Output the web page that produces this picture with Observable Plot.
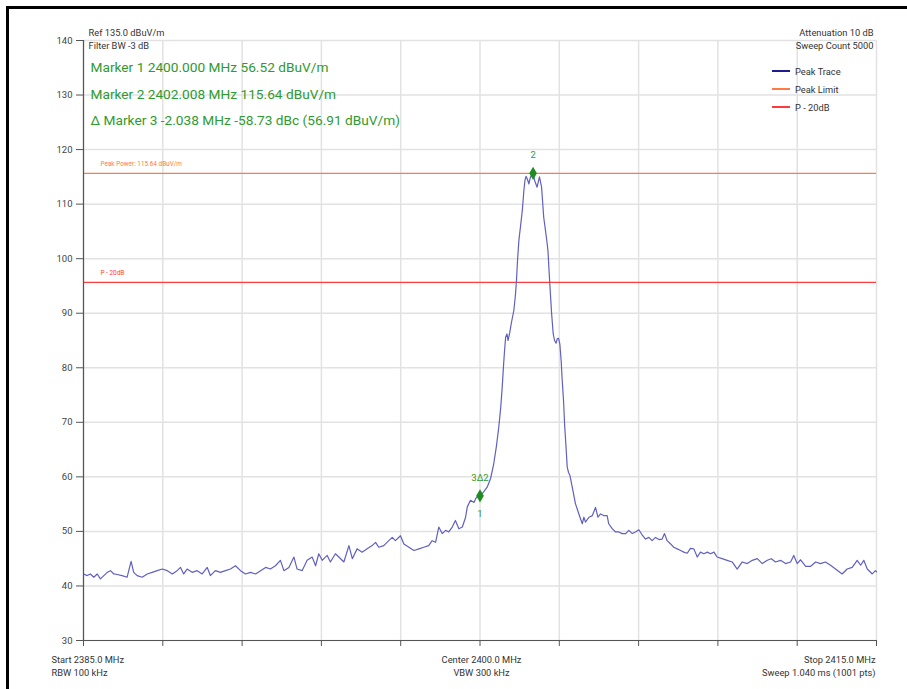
<!DOCTYPE html>
<html><head><meta charset="utf-8">
<script src="https://cdn.jsdelivr.net/npm/d3@7"></script>
<script src="https://cdn.jsdelivr.net/npm/@observablehq/plot@0.6"></script>
<style>
body{margin:0;background:#fff;overflow:hidden;}
#wrap{position:relative;width:907px;height:689px;overflow:hidden;background:#fff;}
#border{position:absolute;left:6px;top:6px;width:1000px;height:800px;border-left:3px solid #000;border-top:3px solid #000;pointer-events:none;}
#legend{position:absolute;left:772px;top:62px;font:9.3px Roboto, sans-serif;color:#333;}
.row{height:18px;display:flex;align-items:center;}
.sw{width:18px;height:0;border-top:2px solid;margin-right:5px;}
</style></head>
<body><div id="wrap"><div id="border"></div><div id="legend"></div></div>
<script>
const freq = [
2385.00,2385.14,2385.26,2385.39,2385.52,2385.64,2385.77,2385.90,2386.02,2386.15,2386.27,2386.46,2386.65,2386.80,2386.90,
2387.03,2387.22,2387.41,2387.60,2387.79,2387.98,2388.17,2388.36,2388.54,2388.67,2388.79,2388.92,2389.11,2389.30,2389.49,
2389.68,2389.80,2389.99,2390.18,2390.37,2390.56,2390.75,2390.94,2391.13,2391.32,2391.51,2391.70,2391.89,2392.07,2392.26,
2392.45,2392.58,2392.77,2392.96,2393.08,2393.27,2393.46,2393.65,2393.78,2393.90,2394.03,2394.22,2394.34,2394.53,2394.66,
2394.85,2395.04,2395.17,2395.35,2395.54,2395.73,2395.92,2396.05,2396.17,2396.36,2396.55,2396.68,2396.80,2396.99,2397.12,
2397.31,2397.50,2397.69,2397.87,2398.06,2398.19,2398.32,2398.44,2398.57,2398.70,2398.82,2398.95,2399.07,2399.20,2399.33,
2399.45,2399.52,2399.64,2399.77,2399.87,2400.00,2400.13,2400.27,2400.40,2400.52,2400.62,2400.71,2400.78,2400.84,2400.89,
2400.93,2400.97,2401.02,2401.06,2401.12,2401.19,2401.28,2401.34,2401.38,2401.42,2401.47,2401.53,2401.60,2401.66,2401.70,
2401.74,2401.79,2401.85,2401.91,2402.008,2402.07,2402.16,2402.25,2402.33,2402.41,2402.52,2402.57,2402.64,2402.71,2402.77,
2402.82,2402.88,2402.92,2402.97,2403.02,2403.07,2403.11,2403.16,2403.20,2403.25,2403.30,2403.35,2403.40,2403.49,2403.55,
2403.61,2403.74,2403.87,2403.93,2403.99,2404.12,2404.25,2404.37,2404.46,2404.56,2404.68,2404.81,2404.87,2405.00,2405.13,
2405.25,2405.38,2405.51,2405.63,2405.76,2405.88,2406.01,2406.14,2406.26,2406.39,2406.51,2406.64,2406.77,2406.89,2406.98,
2407.08,2407.21,2407.33,2407.46,2407.59,2407.71,2407.84,2407.96,2408.09,2408.22,2408.34,2408.47,2408.60,2408.72,2408.85,
2408.97,2409.16,2409.35,2409.54,2409.73,2409.92,2410.11,2410.30,2410.49,2410.68,2410.87,2411.02,2411.18,2411.37,2411.56,
2411.75,2411.87,2412.00,2412.13,2412.32,2412.51,2412.70,2412.88,2413.07,2413.26,2413.45,2413.70,2413.89,2414.08,2414.27,
2414.40,2414.52,2414.65,2414.84,2414.96,2415.00
];
const level = [
42.2,41.9,42.2,41.6,42.2,41.3,41.9,42.5,42.8,42.2,42.1,41.9,41.6,44.5,42.5,
41.9,41.6,42.2,42.5,42.8,43.1,42.8,42.2,42.8,43.4,42.2,43.1,42.5,42.8,42.2,
43.4,41.9,42.8,42.5,42.8,43.1,43.7,42.8,42.2,42.5,42.2,42.8,43.4,43.1,43.7,
44.7,42.8,43.4,45.3,43.1,42.8,44.7,45.3,43.7,45.9,44.7,45.6,44.4,45.9,45.3,
44.4,47.4,45.0,46.8,46.2,46.8,47.4,48.0,47.1,47.4,48.3,48.9,48.3,49.2,47.7,
47.1,46.5,46.8,47.1,47.4,48.3,48.0,50.8,49.6,50.2,49.9,50.8,52.0,50.5,50.8,
52.5,54.5,55.7,55.3,56.3,56.52,57.2,58.1,59.7,62.4,65.6,69.1,72.5,76.4,80.4,
83.2,85.6,86.2,85.0,86.3,88.3,90.5,93.3,96.0,99.7,103.3,105.8,108.8,112.5,114.3,
115.1,114.6,113.7,115.0,115.64,114.3,113.1,115.0,113.1,107.6,103.6,101.5,95.4,89.9,86.2,
85.0,84.5,85.3,85.4,84.4,81.3,77.7,74.0,69.7,65.8,61.8,60.8,60.3,58.1,56.6,
55.1,53.2,51.4,52.6,51.7,52.6,52.9,54.4,52.6,53.2,52.9,52.9,51.4,50.5,49.9,
49.9,49.6,49.6,50.2,49.6,49.9,50.3,49.3,48.6,48.9,48.3,48.9,48.5,48.6,49.6,
48.3,47.7,47.1,46.8,46.5,46.2,46.0,46.9,46.8,45.3,46.2,45.9,46.2,45.9,46.2,
45.3,45.0,44.7,44.4,43.1,44.4,44.1,44.7,45.0,44.1,44.7,45.0,44.4,44.7,44.1,
44.4,45.6,44.1,44.8,43.6,43.6,44.4,44.1,44.4,43.8,43.1,42.2,43.1,43.4,44.7,
43.8,44.7,43.1,42.2,42.8,42.6
];
const markerFreq = [2400.000, 2402.008];
const markerLevel = [56.52, 115.64];
const markerTopLabel = ["3Δ2", "2"];
const markerBottomLabel = ["1", ""];
const peakLimit = 115.64;
const p20Limit = 95.64;
const peakLimitLabel = "Peak Power: 115.64 dBuV/m";
const p20Label = "P - 20dB";
const yTicks = [30,40,50,60,70,80,90,100,110,120,130,140];
const xTicks = [2385,2388,2391,2394,2397,2400,2403,2406,2409,2412,2415];
const headerLeft = ["Ref 135.0 dBuV/m", "Filter BW -3 dB"];
const headerRight = ["Attenuation 10 dB", "Sweep Count 5000"];
const markerLines = ["Marker 1 2400.000 MHz 56.52 dBuV/m", "Marker 2 2402.008 MHz 115.64 dBuV/m", "Δ Marker 3 -2.038 MHz -58.73 dBc (56.91 dBuV/m)"];
const footLeft = ["Start 2385.0 MHz", "RBW 100 kHz"];
const footCenter = ["Center 2400.0 MHz", "VBW 300 kHz"];
const footRight = ["Stop 2415.0 MHz", "Sweep 1.040 ms (1001 pts)"];
const legendNames = ["Peak Trace", "Peak Limit", "P - 20dB"];
const legendColors = ["#1c1c8c", "#ff7a45", "#ff3c3c"];

const trace = freq.map((f, i) => ({f, v: level[i]}));
const markers = markerFreq.map((f, i) => ({f, v: markerLevel[i], top: markerTopLabel[i], bottom: markerBottomLabel[i]}));
const green = "#2f9a2f";
const txt = "#333";

const lineText = (s, anchor, dx, dy, opts = {}) => Plot.text([s], {text: d => d, frameAnchor: anchor, dx, dy, lineAnchor: "middle", fill: txt, ...opts});

const chart = Plot.plot({
  width: 907, height: 689,
  marginLeft: 83, marginRight: 31, marginTop: 40, marginBottom: 49,
  style: {fontFamily: "Roboto, sans-serif", fontSize: "9.3px", background: "transparent", color: txt, overflow: "visible"},
  x: {domain: [2385, 2415], label: null},
  y: {domain: [30, 140], label: null},
  marks: [
    Plot.gridX(xTicks, {stroke: "#e2e2e2", strokeOpacity: 1, strokeWidth: 1.5}),
    Plot.gridY(yTicks, {stroke: "#e2e2e2", strokeOpacity: 1, strokeWidth: 1.5}),
    Plot.ruleY([peakLimit], {stroke: legendColors[1], strokeWidth: 1.2}),
    Plot.ruleY([p20Limit], {stroke: legendColors[2], strokeWidth: 1.2}),
    Plot.text([peakLimit], {y: d => d, text: () => peakLimitLabel, frameAnchor: "left", textAnchor: "start", dx: 17, dy: -9.5, fill: legendColors[1], fontSize: 6.4}),
    Plot.text([p20Limit], {y: d => d, text: () => p20Label, frameAnchor: "left", textAnchor: "start", dx: 17, dy: -9.5, fill: legendColors[2], fontSize: 6.4}),
    Plot.line(trace, {x: "f", y: "v", stroke: "#6060c0", strokeWidth: 1.2}),
    Plot.dot(markers, {x: "f", y: "v", symbol: "diamond", r: 4, fill: "#1e8c1e", stroke: "none"}),
    Plot.text(markers, {x: "f", y: "v", text: "top", dy: -18, fill: green, fontSize: 9.5}),
    Plot.text(markers, {x: "f", y: "v", text: "bottom", dy: 18, fill: green, fontSize: 9.5}),
    Plot.ruleX([2385], {stroke: "#555", strokeWidth: 1.2}),
    Plot.ruleY([30], {stroke: "#555", strokeWidth: 1.2}),
    Plot.axisY(yTicks, {tickSize: 7, tickPadding: 4, stroke: "#555", fill: "#444", fontSize: 9.5, label: null}),
    Plot.axisX(xTicks, {tickSize: 6, tickFormat: () => "", stroke: "#555", label: null}),
    lineText(headerLeft[0], "top-left", 5, -7, {textAnchor: "start"}),
    lineText(headerLeft[1], "top-left", 5, 6, {textAnchor: "start"}),
    lineText(headerRight[0], "top-right", -3, -7, {textAnchor: "end"}),
    lineText(headerRight[1], "top-right", -3, 6, {textAnchor: "end"}),
    lineText(markerLines[0], "top-left", 7, 27, {textAnchor: "start", fill: green, fontSize: 13.7}),
    lineText(markerLines[1], "top-left", 7, 54, {textAnchor: "start", fill: green, fontSize: 13.7}),
    lineText(markerLines[2], "top-left", 7, 80.5, {textAnchor: "start", fill: green, fontSize: 13.7}),
    lineText(footLeft[0], "bottom-left", -32, 20, {textAnchor: "start"}),
    lineText(footLeft[1], "bottom-left", -32, 33, {textAnchor: "start"}),
    lineText(footCenter[0], "bottom", 1.5, 20, {textAnchor: "middle"}),
    lineText(footCenter[1], "bottom", 1.5, 33, {textAnchor: "middle"}),
    lineText(footRight[0], "bottom-right", -1, 20, {textAnchor: "end"}),
    lineText(footRight[1], "bottom-right", -1, 33, {textAnchor: "end"})
  ]
});

const wrap = document.getElementById("wrap");
wrap.insertBefore(chart, wrap.firstChild);
chart.style.position = "absolute";
chart.style.left = "0px";
chart.style.top = "0px";

const legend = d3.select("#legend");
legendNames.forEach((n, i) => {
  const row = legend.append("div").attr("class", "row");
  row.append("div").attr("class", "sw").style("border-top-color", legendColors[i]);
  row.append("span").text(n);
});
</script>
</body></html>
